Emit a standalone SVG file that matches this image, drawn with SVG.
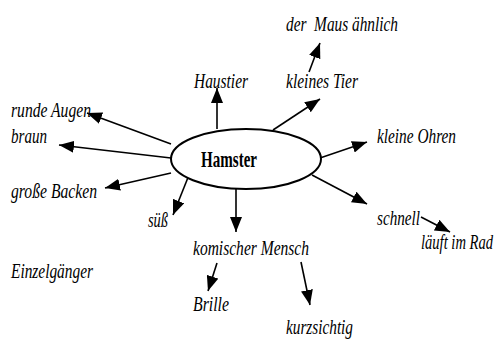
<svg xmlns="http://www.w3.org/2000/svg" width="503" height="342" viewBox="0 0 503 342">
  <style>
    .edge { stroke: #000; stroke-width: 1.6; fill: none; marker-end: url(#head); }
    .oval { fill: #fff; stroke: #000; stroke-width: 2; }
  </style>
  <defs>
    <marker id="head" markerUnits="userSpaceOnUse" markerWidth="16" markerHeight="12" refX="15" refY="6" orient="auto">
      <path d="M0,0 L15,6 L0,12 z" fill="#000"/>
    </marker>
  </defs>
  <rect width="503" height="342" fill="#fff"/>

  <g id="connectors">
    <line class="edge" x1="217" y1="129" x2="217" y2="88"/>
    <line class="edge" x1="273" y1="130" x2="320" y2="99"/>
    <line class="edge" x1="309" y1="72" x2="320" y2="43"/>
    <line class="edge" x1="320" y1="158" x2="367" y2="142"/>
    <line class="edge" x1="312" y1="175" x2="367" y2="204"/>
    <line class="edge" x1="421" y1="217" x2="450" y2="232"/>
    <line class="edge" x1="236" y1="189" x2="236" y2="232"/>
    <line class="edge" x1="189" y1="175" x2="173" y2="215"/>
    <line class="edge" x1="171" y1="173" x2="105" y2="188"/>
    <line class="edge" x1="171" y1="158" x2="59" y2="145"/>
    <line class="edge" x1="171" y1="144" x2="87" y2="113"/>
    <line class="edge" x1="217" y1="263" x2="208" y2="291"/>
    <line class="edge" x1="301" y1="262" x2="310" y2="305"/>
  </g>

  <g id="hamster" font-family="Liberation Serif, serif" font-weight="bold" font-size="23">
    <ellipse class="oval" cx="246" cy="159" rx="75" ry="30"/>
    <text x="201" y="167" textLength="56" lengthAdjust="spacingAndGlyphs">Hamster</text>
  </g>
  <g font-family="Liberation Serif, serif" font-style="italic" font-size="22" fill="#000">
    <g id="haustier"><text x="194" y="88" textLength="54" lengthAdjust="spacingAndGlyphs">Haustier</text></g>
    <g id="kleines-tier"><text x="286" y="88" textLength="72" lengthAdjust="spacingAndGlyphs">kleines Tier</text></g>
    <g id="maus"><text x="286" y="31" textLength="112" lengthAdjust="spacingAndGlyphs" xml:space="preserve">der  Maus ähnlich</text></g>
    <g id="kleine-ohren"><text x="377" y="143" textLength="79" lengthAdjust="spacingAndGlyphs">kleine Ohren</text></g>
    <g id="schnell"><text x="377" y="225" textLength="43" lengthAdjust="spacingAndGlyphs">schnell</text></g>
    <g id="rad"><text x="421" y="249" textLength="72" lengthAdjust="spacingAndGlyphs">läuft im Rad</text></g>
    <g id="komisch"><text x="193" y="255" textLength="116" lengthAdjust="spacingAndGlyphs">komischer Mensch</text></g>
    <g id="brille"><text x="193" y="311" textLength="36" lengthAdjust="spacingAndGlyphs">Brille</text></g>
    <g id="kurzsichtig"><text x="286" y="334" textLength="67" lengthAdjust="spacingAndGlyphs">kurzsichtig</text></g>
    <g id="suess"><text x="148" y="227" textLength="20" lengthAdjust="spacingAndGlyphs">süß</text></g>
    <g id="backen"><text x="11" y="198" textLength="86" lengthAdjust="spacingAndGlyphs">große Backen</text></g>
    <g id="braun"><text x="11" y="143" textLength="36" lengthAdjust="spacingAndGlyphs">braun</text></g>
    <g id="augen"><text x="11" y="117" textLength="80" lengthAdjust="spacingAndGlyphs">runde Augen</text></g>
    <g id="einzel"><text x="11" y="278" textLength="82" lengthAdjust="spacingAndGlyphs">Einzelgänger</text></g>
  </g>
</svg>
